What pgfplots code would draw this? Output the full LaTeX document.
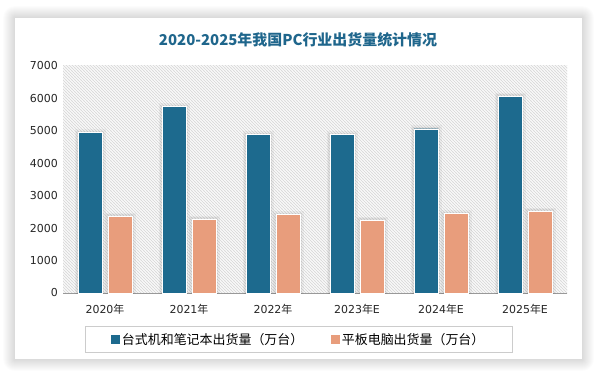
\documentclass[border=0pt]{standalone}
\usepackage{pgfplots}
\pgfplotsset{compat=1.18}
\usepackage{fontspec}
\setmainfont{DejaVu Sans}
\newfontfamily\cjk{Noto Sans CJK SC}
\usetikzlibrary{patterns}
\pgfdeclarepatternformonly[\hatchcolor]{hatch}{\pgfqpoint{-1pt}{-1pt}}{\pgfqpoint{4pt}{4pt}}{\pgfqpoint{3.0112pt}{3.0112pt}}{%
  \pgfsetlinewidth{0.75bp}%
  \pgfpathmoveto{\pgfqpoint{-0.2pt}{3.2112pt}}%
  \pgfpathlineto{\pgfqpoint{3.2112pt}{-0.2pt}}%
  \pgfusepath{stroke}}
\def\hatchcolor{gray}
\definecolor{cblue}{RGB}{29,106,142}
\definecolor{corange}{RGB}{232,157,124}
\definecolor{ctitle}{RGB}{31,102,140}
\begin{document}
\begin{tikzpicture}[x=1bp,y=1bp]
\useasboundingbox (0,0) rectangle (595,371);
\fill[white] (0,0) rectangle (595,371);
\foreach \i in {1,...,12} {\fill[black,opacity=0.012,rounded corners=\i bp] (15-\i,12-\i) rectangle (582+\i,353+\i);}
\fill[white] (15,12) rectangle (582,353);
\node[font=\cjk\bfseries\fontsize{15}{18}\selectfont, text=ctitle] at (298,331) {2020-2025年我国PC行业出货量统计情况};
\begin{axis}[at={(63bp,78bp)}, anchor=south west, scale only axis, width=504bp, height=227bp,
  ybar, bar width=24bp, ybar=6bp,
  xmin=-0.5, xmax=5.5, ymin=0, ymax=7000,
  ytick={0,1000,...,7000},
  xtick={0,...,5},
  xticklabels={2020{\cjk 年},2021{\cjk 年},2022{\cjk 年},2023{\cjk 年}E,2024{\cjk 年}E,2025{\cjk 年}E},
  /pgf/number format/.cd, 1000 sep={}, assume math mode=true, /pgfplots/.cd,
  axis lines*=left,
  x axis line style={draw=gray!80, line width=0.8bp},
  y axis line style={draw=none},
  major tick length=0pt,
  tick style={draw=none},
  ticklabel style={font=\fontsize{11}{13}\selectfont, text=black!85},
  yticklabel style={inner sep=0pt, xshift=-5bp},
  xticklabel style={inner sep=0pt, yshift=-11bp},
  axis background/.style={pattern=hatch, pattern color=gray!28},
  legend columns=2,
  legend style={at={(0.468,-0.205)}, anchor=center, draw=gray!40, line width=0.6bp,
    font=\cjk\fontsize{13}{15}\selectfont, inner xsep=26bp, inner ysep=4.5bp,
    /tikz/every even column/.append style={column sep=26bp}},
  glow/.style={preaction={draw=black, draw opacity=0.04, line width=7bp},
               preaction={draw=black, draw opacity=0.05, line width=4bp}},
]
\addlegendimage{legend image code/.code={\fill[cblue] (0bp,-4bp) rectangle (8bp,4bp);}}
\addlegendimage{legend image code/.code={\fill[corange] (0bp,-4bp) rectangle (8bp,4bp);}}
\addplot[fill=cblue, draw=white, line width=0.8bp, glow] coordinates {(0,4940) (1,5750) (2,4880) (3,4880) (4,5060) (5,6060)};
\addplot[fill=corange, draw=white, line width=0.8bp, glow] coordinates {(0,2360) (1,2270) (2,2420) (3,2250) (4,2450) (5,2520)};
\legend{台式机和笔记本出货量（万台）, 平板电脑出货量（万台）}
\end{axis}
\end{tikzpicture}
\end{document}
